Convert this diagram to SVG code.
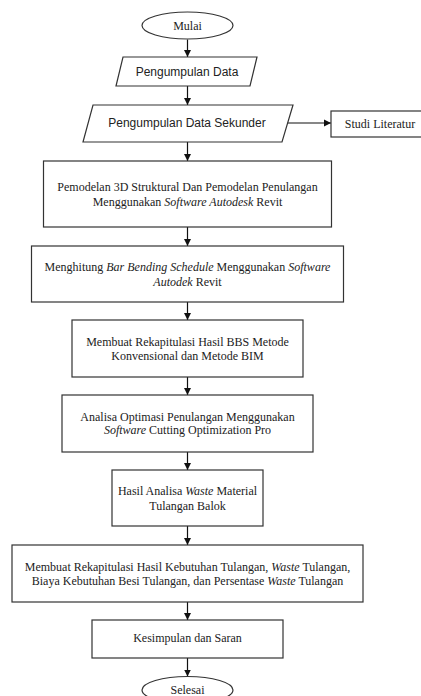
<svg xmlns="http://www.w3.org/2000/svg" width="421" height="696" viewBox="0 0 421 696">
<style>
.bg{fill:#fff}
.shape{fill:#fff;stroke:#333;stroke-width:1.2}
.t{font-family:"Liberation Serif","Times New Roman",serif;font-size:12px;fill:#222;text-anchor:middle}
.s{font-family:"Liberation Sans",Arial,sans-serif;font-size:12px;fill:#222;text-anchor:middle}
.i{font-style:italic}
.c{stroke:#111;stroke-width:1.2;fill:none}
</style>
<defs>
<marker id="ah" markerWidth="8" markerHeight="8" refX="7" refY="4" orient="auto" markerUnits="userSpaceOnUse">
<path d="M0,0.5 L7,4 L0,7.5 Z" fill="#111"/>
</marker>
</defs>
<rect class="bg" width="421" height="696"/>
<g id="connectors">
<line class="c" x1="187.5" y1="39.5" x2="187.5" y2="57" marker-end="url(#ah)"/>
<line class="c" x1="187.5" y1="86" x2="187.5" y2="105" marker-end="url(#ah)"/>
<line class="c" x1="287" y1="123" x2="331" y2="123" marker-end="url(#ah)"/>
<line class="c" x1="187.5" y1="142" x2="187.5" y2="161" marker-end="url(#ah)"/>
<line class="c" x1="187.5" y1="227" x2="187.5" y2="246" marker-end="url(#ah)"/>
<line class="c" x1="187.5" y1="302" x2="187.5" y2="320" marker-end="url(#ah)"/>
<line class="c" x1="187.5" y1="377" x2="187.5" y2="395" marker-end="url(#ah)"/>
<line class="c" x1="187.5" y1="452" x2="187.5" y2="470" marker-end="url(#ah)"/>
<line class="c" x1="187.5" y1="526" x2="187.5" y2="545" marker-end="url(#ah)"/>
<line class="c" x1="187.5" y1="602" x2="187.5" y2="620" marker-end="url(#ah)"/>
<line class="c" x1="187.5" y1="658" x2="187.5" y2="676.5" marker-end="url(#ah)"/>
</g>
<g id="mulai">
<ellipse class="shape" cx="187.5" cy="25.5" rx="45.5" ry="13.5"/>
<text class="t" x="187.5" y="29.5">Mulai</text>
</g>
<g id="pengumpulan-data">
<polygon class="shape" points="123,57 257,57 250,86 116,86"/>
<text class="s" x="187" y="76">Pengumpulan Data</text>
</g>
<g id="data-sekunder">
<polygon class="shape" points="93,105 293,105 282,142 83,142"/>
<text class="s" x="187" y="127">Pengumpulan Data Sekunder</text>
</g>
<g id="studi-literatur">
<rect class="shape" x="331" y="111" width="95" height="26"/>
<text class="t" x="380" y="128">Studi Literatur</text>
</g>
<g id="pemodelan">
<rect class="shape" x="43.5" y="161" width="288" height="66"/>
<text class="t" x="187.5" y="191">Pemodelan 3D Struktural Dan Pemodelan Penulangan</text>
<text class="t" x="187.5" y="206">Menggunakan <tspan class="i">Software Autodesk</tspan> Revit</text>
</g>
<g id="bbs">
<rect class="shape" x="31.5" y="246" width="312" height="56"/>
<text class="t" x="187.5" y="271">Menghitung <tspan class="i">Bar Bending Schedule</tspan> Menggunakan <tspan class="i">Software</tspan></text>
<text class="t" x="187.5" y="286"><tspan class="i">Autodek</tspan> Revit</text>
</g>
<g id="rekap-bbs">
<rect class="shape" x="72" y="320" width="231" height="57"/>
<text class="t" x="187.5" y="346">Membuat Rekapitulasi Hasil BBS Metode</text>
<text class="t" x="187.5" y="360">Konvensional dan Metode BIM</text>
</g>
<g id="optimasi">
<rect class="shape" x="62" y="395" width="251" height="57"/>
<text class="t" x="187.5" y="421">Analisa Optimasi Penulangan Menggunakan</text>
<text class="t" x="187.5" y="434"><tspan class="i">Software</tspan> Cutting Optimization Pro</text>
</g>
<g id="waste">
<rect class="shape" x="112" y="470" width="151" height="56"/>
<text class="t" x="187.5" y="495">Hasil Analisa <tspan class="i">Waste</tspan> Material</text>
<text class="t" x="187.5" y="510">Tulangan Balok</text>
</g>
<g id="rekap-kebutuhan">
<rect class="shape" x="12" y="545" width="351" height="57"/>
<text class="t" x="187.5" y="571">Membuat Rekapitulasi Hasil Kebutuhan Tulangan, <tspan class="i">Waste</tspan> Tulangan,</text>
<text class="t" x="187.5" y="585">Biaya Kebutuhan Besi Tulangan, dan Persentase <tspan class="i">Waste</tspan> Tulangan</text>
</g>
<g id="kesimpulan">
<rect class="shape" x="92" y="620" width="191" height="38"/>
<text class="t" x="187.5" y="642">Kesimpulan dan Saran</text>
</g>
<g id="selesai">
<ellipse class="shape" cx="187.5" cy="690" rx="45.5" ry="13.5"/>
<text class="t" x="187.5" y="694">Selesai</text>
</g>
</svg>
